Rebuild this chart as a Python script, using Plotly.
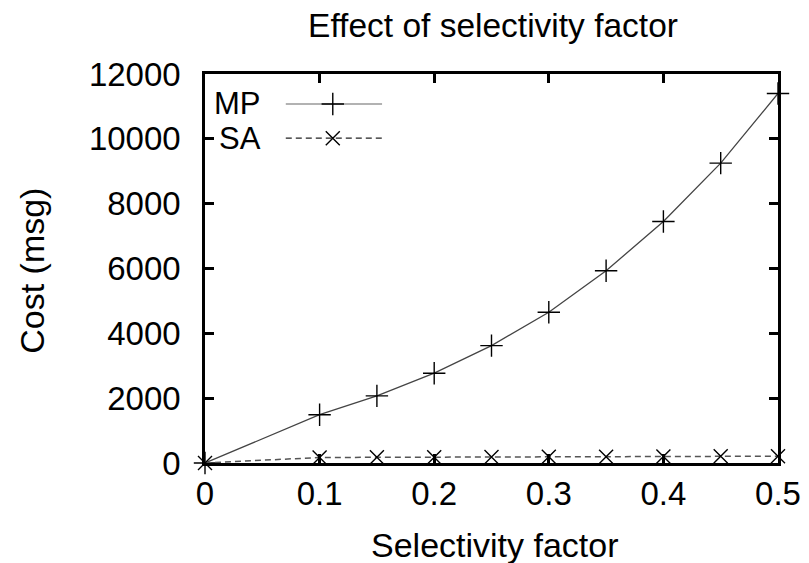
import plotly.graph_objects as go

selectivity = [0, 0.1, 0.15, 0.2, 0.25, 0.3, 0.35, 0.4, 0.45, 0.5]
mp_cost = [0, 1490, 2070, 2770, 3620, 4650, 5930, 7450, 9250, 11400]
sa_cost = [0, 170, 175, 180, 185, 190, 195, 200, 205, 210]
x_ticks = [0, 0.1, 0.2, 0.3, 0.4, 0.5]
x_tick_labels = ["0", "0.1", "0.2", "0.3", "0.4", "0.5"]
y_ticks = [0, 2000, 4000, 6000, 8000, 10000, 12000]
y_tick_labels = ["0", "2000", "4000", "6000", "8000", "10000", "12000"]
series_names = ["MP", "SA"]

FONT = "Liberation Sans, Arial, sans-serif"
FS = 34

fig = go.Figure()
fig.add_trace(go.Scatter(
    x=selectivity, y=mp_cost, mode="lines+markers", name=series_names[0],
    line=dict(color="#444444", width=1.3),
    marker=dict(symbol="cross-thin", size=16, line=dict(color="black", width=1.4)),
    showlegend=False, cliponaxis=False))
fig.add_trace(go.Scatter(
    x=selectivity, y=sa_cost, mode="lines+markers", name=series_names[1],
    line=dict(color="#555555", width=1.5, dash="6px,4px"),
    marker=dict(symbol="x-thin", size=14, line=dict(color="black", width=1.4)),
    showlegend=False, cliponaxis=False))

# gnuplot-style key (sample line to the right of the label), on a hidden 0..1 overlay axis
key_y = [0.923, 0.835]
key_styles = [
    dict(line=dict(color="#999999", width=1.6), marker=dict(symbol="cross-thin", size=16, line=dict(color="black", width=1.4))),
    dict(line=dict(color="#222222", width=1.3, dash="6px,4px"), marker=dict(symbol="x-thin", size=14, line=dict(color="black", width=1.4))),
]
for name, ky, st in zip(series_names, key_y, key_styles):
    fig.add_trace(go.Scatter(x=[0.141, 0.309], y=[ky, ky], mode="lines", line=st["line"],
                             xaxis="x2", yaxis="y2", showlegend=False, hoverinfo="skip"))
    fig.add_trace(go.Scatter(x=[0.223], y=[ky], mode="markers", marker=st["marker"],
                             xaxis="x2", yaxis="y2", showlegend=False, hoverinfo="skip"))
    fig.add_annotation(x=0.101, y=ky, xref="paper", yref="paper", text=name, showarrow=False,
                       xanchor="right", yanchor="middle", font=dict(family=FONT, size=31, color="black"))

# axis titles
fig.add_annotation(x=0.506, y=-0.211, xref="paper", yref="paper", text="Selectivity factor",
                   showarrow=False, xanchor="center", yanchor="middle",
                   font=dict(family=FONT, size=FS, color="black"))
fig.add_annotation(x=-0.302, y=0.494, xref="paper", yref="paper", text="Cost (msg)", textangle=-90,
                   showarrow=False, xanchor="center", yanchor="middle",
                   font=dict(family=FONT, size=FS, color="black"))

axis_common = dict(showline=True, linecolor="black", linewidth=2.5, mirror="ticks",
                   ticks="inside", ticklen=9, tickwidth=2.5, tickcolor="black",
                   showgrid=False, zeroline=False, automargin=False,
                   tickfont=dict(family=FONT, size=33, color="black"))

fig.update_layout(
    width=809, height=563,
    margin=dict(l=197, r=39, t=66, b=108),
    paper_bgcolor="white", plot_bgcolor="white",
    title=dict(text="Effect of selectivity factor", x=0.5995, xanchor="center", y=0.970, yanchor="middle",
               font=dict(family=FONT, size=33.5, color="black")),
    xaxis=dict(range=[0, 0.5], tickvals=x_ticks, ticktext=x_tick_labels, ticklabelstandoff=0,
               **axis_common),
    yaxis=dict(range=[0, 12000], tickvals=y_ticks, ticktext=y_tick_labels, ticklabelstandoff=15,
               **axis_common),
    xaxis2=dict(range=[0, 1], overlaying="x", visible=False),
    yaxis2=dict(range=[0, 1], overlaying="y", visible=False),
)

fig.write_html("out.html")
